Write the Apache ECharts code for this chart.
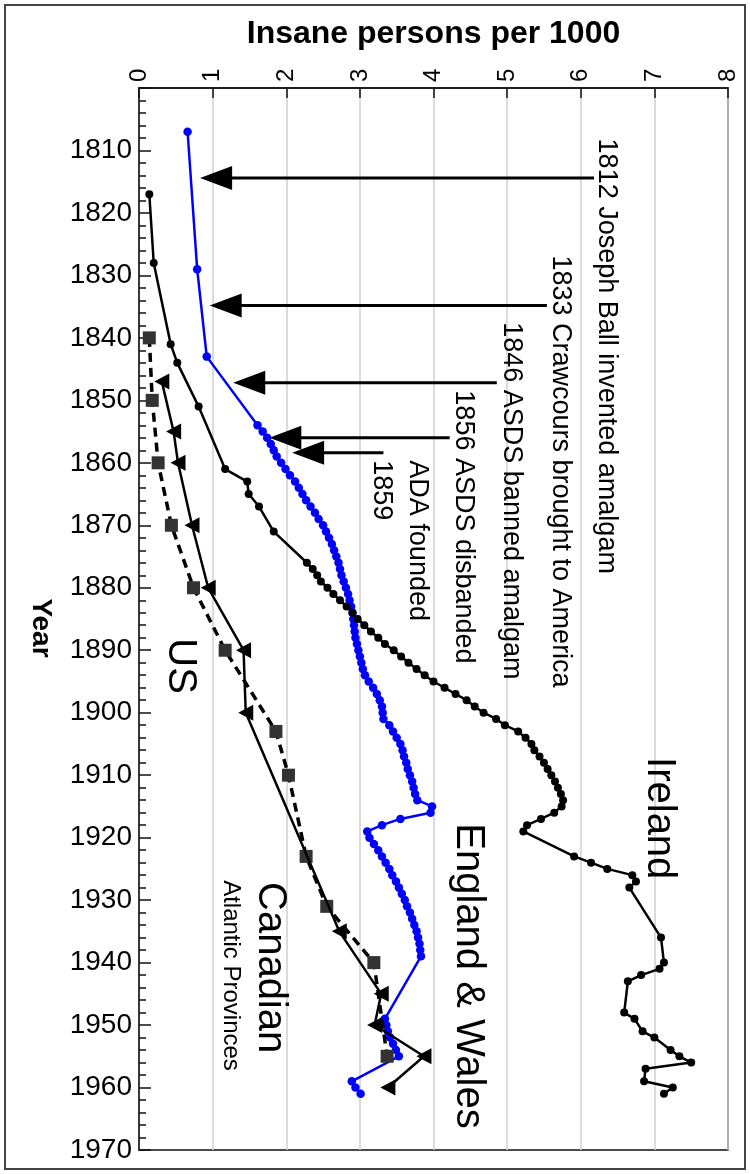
<!DOCTYPE html>
<html><head><meta charset="utf-8">
<script src="https://cdn.jsdelivr.net/npm/echarts@6/dist/echarts.min.js"></script>
<style>html,body{margin:0;padding:0;background:#fff}#c{width:750px;height:1174px}</style>
</head><body><div id="c"></div><script>
// ---------- data ----------
const irelandYears = [1817,1828,1841,1844,1851,1861,1863,1865,1867,1871,
  1876,1877,1878,1879,1880,1881,1882,1883,1884,1885,1886,1887,1888,1889,1890,1891,1892,1893,1894,1895,
  1896,1897,1898,1899,1900,1901,1902,1903,1904,1905,1906,1907,1908,1909,1910,1911,1912,1913,1914,1915,
  1916,1917,1918,1919,1923,1924,1925,1926,1927,1928,1936,1940,1941,1942,1943,1948,1949,1951,1952,1954,
  1955,1956,1957,1959,1960,1961];
const irelandValues = [0.14,0.20,0.43,0.52,0.81,1.17,1.47,1.49,1.63,1.83,
  2.28,2.36,2.42,2.47,2.56,2.64,2.73,2.82,2.90,2.97,3.06,3.15,3.25,3.34,3.46,3.56,3.66,3.77,3.88,4.00,
  4.15,4.30,4.45,4.56,4.68,4.85,4.97,5.15,5.25,5.33,5.37,5.44,5.50,5.55,5.60,5.65,5.69,5.73,5.76,5.74,
  5.64,5.46,5.27,5.22,5.91,6.14,6.36,6.70,6.75,6.66,7.09,7.13,7.07,6.82,6.64,6.59,6.73,6.84,7.00,7.22,
  7.34,7.50,6.88,6.86,7.25,7.13];

const ewYears = [1807,1829,1843,
  1854,1855,1856,1857,1858,1859,1860,1861,1862,1863,1864,1865,1866,1867,1868,1869,1870,1871,1872,1873,
  1874,1875,1876,1877,1878,1879,1880,1881,1882,1883,1884,1885,1886,1887,1888,1889,1890,1891,1892,1893,
  1894,1895,1896,1897,1898,1899,1900,1901,1902,1903,1904,1905,1906,1907,1908,1909,1910,1911,1912,1913,
  1914,1915,1916,1917,1918,1919,1920,1921,1922,1923,1924,1925,1926,1927,1928,1929,1930,1931,1932,1933,
  1934,1935,1936,1937,1938,1939,1949,1950,1951,1952,1953,1954,1955,1959,1960,1961];
const ewValues = [0.66,0.79,0.92,
  1.61,1.68,1.74,1.79,1.83,1.87,1.93,1.99,2.05,2.12,2.17,2.22,2.27,2.33,2.39,2.44,2.50,2.54,2.58,2.62,
  2.65,2.68,2.71,2.73,2.75,2.78,2.81,2.84,2.86,2.88,2.90,2.91,2.92,2.93,2.94,2.96,2.98,3.00,3.02,3.04,
  3.07,3.12,3.18,3.23,3.27,3.30,3.31,3.32,3.40,3.45,3.50,3.55,3.58,3.60,3.63,3.65,3.68,3.71,3.73,3.75,
  3.78,3.98,3.96,3.55,3.30,3.10,3.13,3.19,3.25,3.30,3.35,3.40,3.44,3.49,3.53,3.57,3.61,3.64,3.68,3.71,
  3.74,3.77,3.79,3.81,3.82,3.83,3.34,3.36,3.38,3.41,3.45,3.49,3.53,2.89,2.94,3.01];

const usYears  = [1840,1850,1860,1870,1880,1890,1903,1910,1923,1931,1940,1955];
const usValues = [0.14,0.18,0.26,0.44,0.74,1.17,1.86,2.03,2.27,2.55,3.19,3.37];

const canYears  = [1847,1855,1860,1870,1880,1890,1900,1935,1945,1950,1955,1960];
const canValues = [0.31,0.47,0.53,0.72,0.94,1.42,1.45,2.72,3.29,3.20,3.87,3.38];

// event arrows: year, arrow-tip value, tail value
const arrowYears = [1814.4,1834.8,1847.2,1856.0,1858.4];
const arrowTips  = [0.83,0.96,1.28,1.77,2.08];
const arrowTails = [6.18,5.54,4.86,4.22,3.32];

// annotation texts (anchored in data coordinates)
const annoTexts  = ['1812 Joseph Ball invented amalgam','1833 Crawcours brought to America',
  '1846 ASDS banned amalgam','1856 ASDS disbanded','ADA founded','1859',
  'Ireland','England & Wales','US','Canadian','Atlantic Provinces'];
const annoValues = [6.35,5.73,5.06,4.41,3.78,3.29,7.06,4.47,0.56,1.78,1.25];
const annoYears  = [1808.1,1826.8,1837.5,1848.4,1859.6,1859.6,1907.1,1917.7,1888.1,1927.1,1926.8];
const annoSizes  = [27,27,27,27,27,27,40,40,40,40,24];

const xTickValues = [0,1,2,3,4,5,6,7,8];

// ---------- chart ----------
const FONT = '"Liberation Sans", Arial, sans-serif';
const zip = (a, b) => a.map((y, i) => [b[i], y]);

const chart = echarts.init(document.getElementById('c'));
chart.setOption({
  animation: false,
  backgroundColor: '#fff',
  graphic: [{
    type: 'rect', shape: {x: 5, y: 5, width: 740, height: 1164},
    style: {fill: 'none', stroke: '#444', lineWidth: 2}, z: -1
  }],
  grid: {left: 139, right: 22, top: 88, bottom: 24, show: true,
         borderColor: '#111', borderWidth: 1.5, backgroundColor: 'transparent'},
  xAxis: {
    type: 'value', position: 'top', min: 0, max: 8, interval: 1,
    name: 'Insane persons per 1000', nameLocation: 'middle', nameGap: 38, nameMoveOverlap: false,
    nameTextStyle: {fontFamily: FONT, fontSize: 32, fontWeight: 'bold', color: '#000'},
    axisLine: {show: true, lineStyle: {color: '#111', width: 1.5}},
    axisTick: {show: true, inside: true, length: 10, lineStyle: {color: '#111', width: 1.5}},
    axisLabel: {rotate: -90, margin: 6, fontFamily: FONT, fontSize: 24, color: '#000',
                formatter: v => xTickValues.includes(v) ? String(v) : ''},
    splitLine: {show: true, lineStyle: {color: '#cfcfcf', width: 1.5}}
  },
  yAxis: {
    type: 'value', inverse: true, min: 1800, max: 1970, interval: 10,
    name: 'Year', nameLocation: 'middle', nameGap: 84, nameRotate: -90, nameMoveOverlap: false,
    nameTextStyle: {fontFamily: FONT, fontSize: 28, fontWeight: 'bold', color: '#000', padding: [0, 0, 0, 18]},
    axisLine: {show: true, lineStyle: {color: '#111', width: 1.5}},
    axisTick: {show: true, inside: true, length: 12, lineStyle: {color: '#111', width: 1.5}},
    minorTick: {show: true, splitNumber: 5, length: 7, lineStyle: {color: '#111', width: 1.5}},
    axisLabel: {showMinLabel: false, margin: 7, fontFamily: FONT, fontSize: 28, color: '#000',
                formatter: v => String(v)},
    splitLine: {show: false}
  },
  series: [
    {name: 'England & Wales', type: 'line', data: zip(ewYears, ewValues),
     symbol: 'circle', symbolSize: 8.5, color: '#0000ff',
     lineStyle: {color: '#0000ff', width: 2.5}, itemStyle: {color: '#0000ff'}, z: 3},
    {name: 'Ireland', type: 'line', data: zip(irelandYears, irelandValues),
     symbol: 'circle', symbolSize: 8, color: '#000',
     lineStyle: {color: '#000', width: 2.5}, itemStyle: {color: '#000'}, z: 4},
    {name: 'US', type: 'line', data: zip(usYears, usValues),
     symbol: 'rect', symbolSize: 13, color: '#333',
     lineStyle: {color: '#000', width: 3.5, type: [9, 6]}, itemStyle: {color: '#333'}, z: 5},
    {name: 'Canadian', type: 'line', data: zip(canYears, canValues),
     symbol: 'triangle', symbolSize: [16, 15], symbolRotate: 90, color: '#000',
     lineStyle: {color: '#000', width: 2.5}, itemStyle: {color: '#000'}, z: 6},
    {name: 'arrows', type: 'custom', z: 7,
     data: arrowYears.map((y, i) => [y, arrowTips[i], arrowTails[i]]),
     encode: {y: 0, x: [1, 2]},
     renderItem: (params, api) => {
       const p1 = api.coord([api.value(1), api.value(0)]);
       const p2 = api.coord([api.value(2), api.value(0)]);
       return {type: 'group', children: [
         {type: 'line', shape: {x1: p1[0] + 28, y1: p1[1], x2: p2[0], y2: p2[1]},
          style: {stroke: '#000', lineWidth: 3}},
         {type: 'polygon', shape: {points: [[p1[0], p1[1]], [p1[0] + 32, p1[1] - 12], [p1[0] + 32, p1[1] + 12]]},
          style: {fill: '#000'}}
       ]};
     }},
    {name: 'labels', type: 'custom', z: 8, silent: true,
     data: annoYears.map((y, i) => [y, annoValues[i], i]),
     encode: {y: 0, x: 1},
     renderItem: (params, api) => {
       const p = api.coord([api.value(1), api.value(0)]);
       const i = api.value(2);
       return {type: 'text', x: p[0], y: p[1], rotation: -Math.PI / 2,
               style: {text: annoTexts[i], font: annoSizes[i] + 'px ' + FONT, fill: '#000',
                       align: 'left', verticalAlign: 'middle'}};
     }}
  ]
});
</script></body></html>
